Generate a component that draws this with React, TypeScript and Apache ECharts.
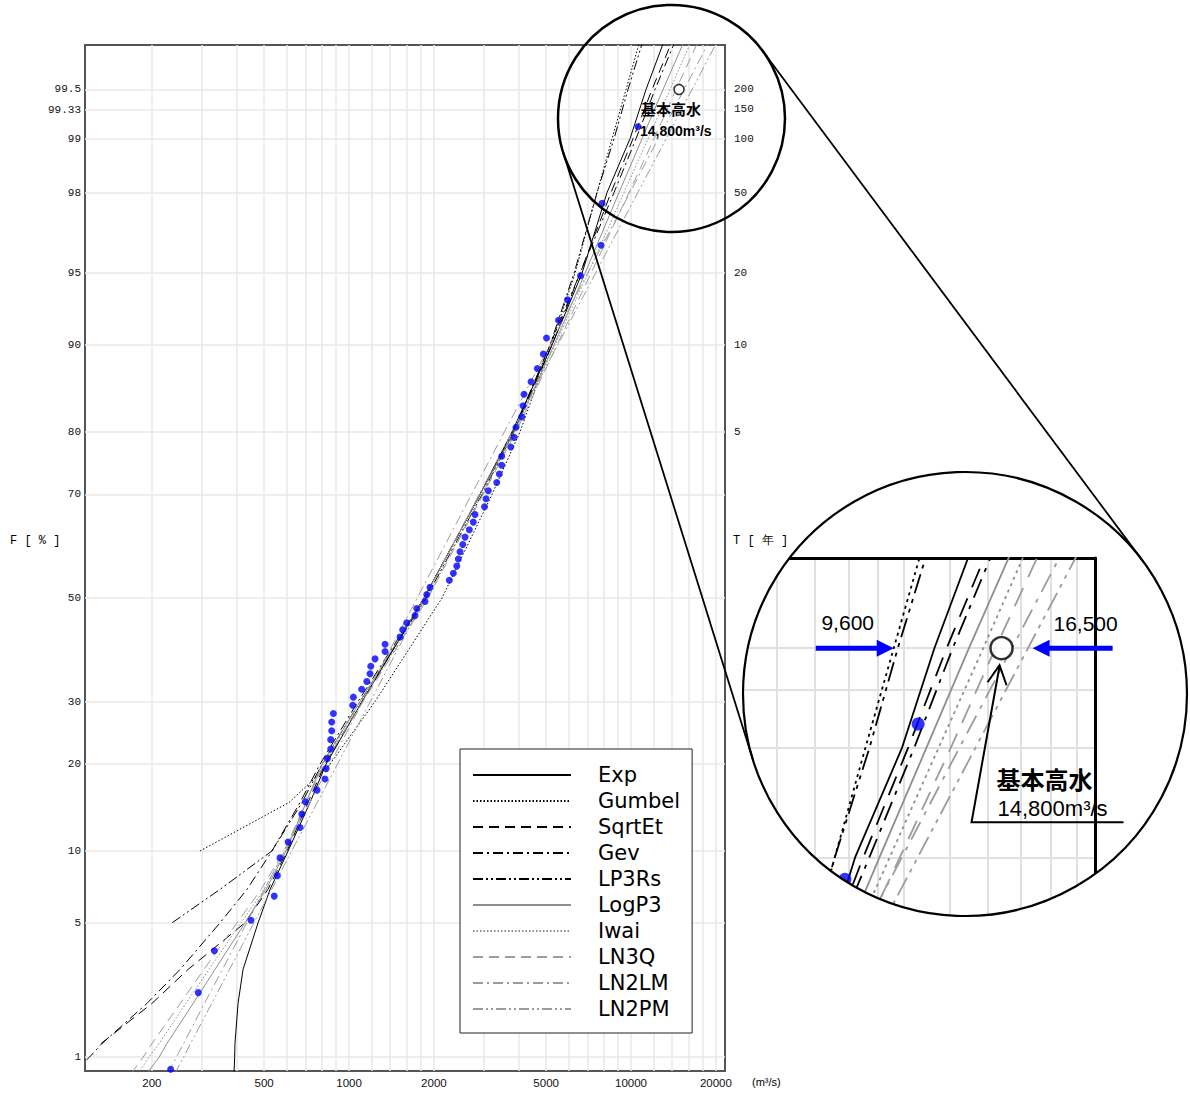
import React, { useEffect, useRef } from 'react';
import * as echarts from 'echarts';

// ---------------- data ----------------
// non-exceedance probability levels (%) at which the fitted curves are read
const probLevels = [0.8, 1, 1.2, 2, 3, 5, 7, 10, 15, 20, 30, 50, 70, 80, 90, 95, 98, 99, 99.5, 99.75];

// fitted discharge (m3/s) for each method at probLevels (null = not drawn)
const qExp = [391, 393, 394, 404, 421, 476, 525, 608, 727, 829, 1112, 1845, 2914, 3785, 5247, 6703, 8221, 9919, 11303, 12986];
const qGumbel = [null, null, null, null, null, null, null, 296, 612, 856, 1237, 2137, 3214, 4040, 5204, 6331, 7577, 8564, 9600, 10675];
const qSqrtEt = [null, null, 132, 200, 269, 428, 516, 603, 715, 822, 1112, 1845, 2914, 3847, 5247, 6595, 8494, 10165, 11871, 13863];
const qGev = [104, 120, 133, 192, 252, 349, 435, 533, 670, 789, 1076, 1845, 2914, 3816, 5161, 6595, 8705, 10417, 12165, 14207];
const qLP3Rs = [null, null, null, null, null, 236, 349, 533, 681, 802, 1094, 1875, 2962, 3847, 5161, 6280, 7577, 8705, 9758, 10940];
const qLogP3 = [192, 212, 226, 280, 335, 428, 508, 598, 704, 802, 1094, 1845, 2914, 3847, 5333, 6869, 9066, 10940, 12986, 15291];
const qIwai = [179, 195, 212, 264, 319, 414, 500, 593, 704, 809, 1112, 1891, 2962, 3878, 5377, 7040, 9445, 11489, 13751, 16190];
const qLN3Q = [169, 186, 200, 252, 306, 401, 488, 588, 704, 815, 1121, 1906, 2987, 3910, 5465, 7214, 9838, 12066, 14441, 17143];
const qLN2LM = [228, 244, 259, 307, 356, 434, 501, 591, 726, 856, 1120, 1745, 2719, 3557, 5161, 7017, 9919, 12487, 15429, 18753];
const qLN2PM = [241, 259, 274, 326, 377, 460, 532, 626, 771, 910, 1190, 1856, 2893, 3785, 5497, 7478, 10571, 13319, 16457, 20021];

// observed annual maxima: plotting position (%) and discharge (m3/s)
const obsF = [0.85, 2.28, 3.70, 5.13, 6.55, 7.98, 9.40, 10.83, 12.25, 13.68, 15.10, 16.52, 17.95, 19.37, 20.80, 22.22, 23.65, 25.07, 26.50, 27.92,
  29.34, 30.77, 32.19, 33.62, 35.04, 36.47, 37.89, 39.32, 40.74, 42.17, 43.59, 45.01, 46.44, 47.86, 49.29, 50.71, 52.14, 53.56, 54.99, 56.41,
  57.83, 59.26, 60.68, 62.11, 63.53, 64.96, 66.38, 67.81, 69.23, 70.66, 72.08, 73.50, 74.93, 76.35, 77.78, 79.20, 80.63, 82.05, 83.48, 84.90,
  86.32, 87.75, 89.17, 90.60, 92.02, 93.45, 94.87, 96.30, 97.72, 99.15];
const obsQ = [233, 292, 333, 449, 543, 557, 569, 608, 670, 680, 700, 770, 822, 829, 838, 861, 861, 868, 868, 880,
  1031, 1036, 1109, 1156, 1187, 1194, 1237, 1342, 1342, 1517, 1550, 1602, 1714, 1738, 1860, 1886, 1937, 2268, 2344, 2410,
  2441, 2475, 2531, 2579, 2671, 2759, 2798, 3023, 3061, 3119, 3340, 3412, 3479, 3479, 3745, 3847, 3910, 4096, 4141, 4174,
  4420, 4653, 4887, 5016, 5532, 5954, 6622, 7828, 7892, 10589];

// design flood (基本高水) and range of fitted values at T=200
const designQ = [14800];
const designF = [99.5];
const rangeQ = [9600, 16500];

// axis ticks
const yTickF = [1, 5, 10, 20, 30, 50, 70, 80, 90, 95, 98, 99, 99.33, 99.5];
const yTickLabels = ['1', '5', '10', '20', '30', '50', '70', '80', '90', '95', '98', '99', '99.33', '99.5'];
const returnPeriods = [5, 10, 20, 50, 100, 150, 200];
const xLabelQ = [200, 500, 1000, 2000, 5000, 10000, 20000];
const xGridQ = [200, 300, 400, 500, 600, 700, 800, 900, 1000, 1200, 1400, 1600, 1800, 2000, 3000, 4000, 5000,
  6000, 7000, 8000, 9000, 10000, 12000, 14000, 16000, 18000, 20000];

// axis ranges (discharge in m3/s, standard normal variate for probability)
const X_RANGE_Q = [115.8, 21540];
const INSET_X_MIN_Q = 5284;
const Y_RANGE_Z = [-2.396, 2.801];
const INSET_Y_MIN_Z = 1.91;

// ---------------- helpers ----------------
function normInv(p: number): number {
  const a = [-3.969683028665376e+01, 2.209460984245205e+02, -2.759285104469687e+02, 1.383577518672690e+02, -3.066479806614716e+01, 2.506628277459239e+00];
  const b = [-5.447609879822406e+01, 1.615858368580409e+02, -1.556989798598866e+02, 6.680131188771972e+01, -1.328068155288572e+01];
  const c = [-7.784894002430293e-03, -3.223964580411365e-01, -2.400758277161838e+00, -2.549671010161475e+00, 4.374664141464968e+00, 2.938163982698783e+00];
  const d = [7.784695709041462e-03, 3.224671290700398e-01, 2.445134137142996e+00, 3.754408661907416e+00];
  const plow = 0.02425;
  const phigh = 1 - plow;
  if (p < plow) {
    const q = Math.sqrt(-2 * Math.log(p));
    return (((((c[0] * q + c[1]) * q + c[2]) * q + c[3]) * q + c[4]) * q + c[5]) / ((((d[0] * q + d[1]) * q + d[2]) * q + d[3]) * q + 1);
  }
  if (p <= phigh) {
    const q = p - 0.5;
    const r = q * q;
    return (((((a[0] * r + a[1]) * r + a[2]) * r + a[3]) * r + a[4]) * r + a[5]) * q / (((((b[0] * r + b[1]) * r + b[2]) * r + b[3]) * r + b[4]) * r + 1);
  }
  const q = Math.sqrt(-2 * Math.log(1 - p));
  return -(((((c[0] * q + c[1]) * q + c[2]) * q + c[3]) * q + c[4]) * q + c[5]) / ((((d[0] * q + d[1]) * q + d[2]) * q + d[3]) * q + 1);
}

const toPt = (q: number, f: number) => [Math.log10(q), normInv(f / 100)];

const nearestLabel = (v: number, vals: number[], labels: string[]) => {
  let bi = 0;
  let bd = Infinity;
  vals.forEach((x, i) => {
    const dd = Math.abs(x - v);
    if (dd < bd) { bd = dd; bi = i; }
  });
  return labels[bi];
};

const lineDefs: { name: string; q: (number | null)[]; color: string; dash: any }[] = [
  { name: 'Exp', q: qExp, color: '#000000', dash: 'solid' },
  { name: 'Gumbel', q: qGumbel, color: '#000000', dash: [1.5, 2] },
  { name: 'SqrtEt', q: qSqrtEt, color: '#000000', dash: [10, 6] },
  { name: 'Gev', q: qGev, color: '#000000', dash: [10, 4, 2, 4] },
  { name: 'LP3Rs', q: qLP3Rs, color: '#000000', dash: [10, 3, 2, 3, 2, 3] },
  { name: 'LogP3', q: qLogP3, color: '#8e8e8e', dash: 'solid' },
  { name: 'Iwai', q: qIwai, color: '#8e8e8e', dash: [1.5, 2] },
  { name: 'LN3Q', q: qLN3Q, color: '#9c9c9c', dash: [10, 6] },
  { name: 'LN2LM', q: qLN2LM, color: '#9c9c9c', dash: [10, 4, 2, 4] },
  { name: 'LN2PM', q: qLN2PM, color: '#9c9c9c', dash: [10, 3, 2, 3, 2, 3] },
];

const MONO = '"Liberation Mono", "DejaVu Sans Mono", monospace';
const SANS = '"Liberation Sans", Arial, sans-serif';
const NARROW = '"Liberation Sans Narrow", "Liberation Sans", sans-serif';
const CJK = '"Noto Sans CJK JP", "Noto Sans CJK SC", sans-serif';

export default function App() {
  const ref = useRef<HTMLDivElement>(null);

  useEffect(() => {
    const el = ref.current;
    if (!el) return;
    const chart = echarts.init(el, null, { renderer: 'svg' });

    const yTickZ = yTickF.map((f) => normInv(f / 100));
    const tTickZ = returnPeriods.map((t) => normInv(1 - 1 / t));
    const xLabelLog = xLabelQ.map((q) => Math.log10(q));
    const xGridLog = xGridQ.map((q) => Math.log10(q));

    const curveData = (q: (number | null)[]) =>
      probLevels
        .map((f, i) => (q[i] == null ? null : toPt(q[i] as number, f)))
        .filter((p) => p !== null);

    const obsData = obsQ.map((q, i) => toPt(q, obsF[i]));
    const designData = designQ.map((q, i) => toPt(q, designF[i]));

    const series: any[] = [];
    lineDefs.forEach((d) => {
      series.push({
        type: 'line', name: d.name, xAxisIndex: 0, yAxisIndex: 0,
        data: curveData(d.q), symbol: 'none', showSymbol: false, z: 2,
        lineStyle: { color: d.color, width: 1, type: d.dash },
        itemStyle: { color: d.color },
        emphasis: { disabled: true }, silent: true,
      });
    });
    series.push({
      type: 'scatter', name: 'obs', xAxisIndex: 0, yAxisIndex: 0, data: obsData,
      symbolSize: 7, itemStyle: { color: '#0000ff' }, z: 3, silent: true,
    });
    series.push({
      type: 'scatter', name: 'design', xAxisIndex: 0, yAxisIndex: 0, data: designData,
      symbolSize: 10, itemStyle: { color: '#ffffff', borderColor: '#000', borderWidth: 1.6 }, z: 4, silent: true,
    });
    // inset (magnified) copies
    lineDefs.forEach((d) => {
      series.push({
        type: 'line', name: d.name, xAxisIndex: 1, yAxisIndex: 2,
        data: curveData(d.q), symbol: 'none', showSymbol: false, z: 2,
        lineStyle: { color: d.color, width: 1.8, type: Array.isArray(d.dash) ? d.dash.map((v: number) => v * 2) : d.dash },
        itemStyle: { color: d.color },
        emphasis: { disabled: true }, silent: true,
      });
    });
    series.push({
      type: 'scatter', name: 'obsInset', xAxisIndex: 1, yAxisIndex: 2, data: obsData,
      symbolSize: 13, itemStyle: { color: '#0000ff' }, z: 3, silent: true,
    });
    series.push({
      type: 'scatter', name: 'designInset', xAxisIndex: 1, yAxisIndex: 2, data: designData,
      symbolSize: 22, itemStyle: { color: '#ffffff', borderColor: '#000', borderWidth: 2.5 }, z: 4, silent: true,
    });

    const gridLine = { show: true, lineStyle: { color: '#e8e8e8', width: 1.5 } };

    const option: any = {
      animation: false,
      backgroundColor: '#ffffff',
      textStyle: { fontFamily: SANS },
      grid: [
        { left: 85, top: 45, width: 640, height: 1026, show: true, borderColor: '#555', borderWidth: 2, backgroundColor: 'transparent', outerBoundsMode: 'none' },
        { left: 745, top: 558, width: 350, height: 357, show: false, outerBoundsMode: 'none' },
      ],
      xAxis: [
        {
          type: 'value', gridIndex: 0, min: Math.log10(X_RANGE_Q[0]), max: Math.log10(X_RANGE_Q[1]),
          axisLine: { show: false },
          axisTick: { show: false, customValues: xGridLog },
          splitLine: gridLine,
          axisLabel: {
            customValues: xLabelLog, margin: 6, fontSize: 11.5, fontFamily: NARROW, color: '#111',
            formatter: (v: number) => nearestLabel(v, xLabelLog, xLabelQ.map(String)),
          },
        },
        {
          type: 'value', gridIndex: 1, position: 'top', min: Math.log10(INSET_X_MIN_Q), max: Math.log10(X_RANGE_Q[1]),
          axisLine: { show: true, onZero: false, lineStyle: { color: '#000', width: 3 } },
          axisTick: { show: false, customValues: xGridLog },
          splitLine: { show: true, lineStyle: { color: '#e0e0e0', width: 2 } },
          axisLabel: { show: false },
        },
      ],
      yAxis: [
        {
          type: 'value', gridIndex: 0, position: 'left', min: Y_RANGE_Z[0], max: Y_RANGE_Z[1],
          axisLine: { show: false },
          axisTick: { show: false, customValues: yTickZ },
          splitLine: gridLine,
          axisLabel: {
            customValues: yTickZ, margin: 4, fontSize: 11, fontFamily: MONO, color: '#111',
            formatter: (v: number) => nearestLabel(v, yTickZ, yTickLabels),
          },
        },
        {
          type: 'value', gridIndex: 0, position: 'right', min: Y_RANGE_Z[0], max: Y_RANGE_Z[1],
          axisLine: { show: false },
          axisTick: { show: false, customValues: tTickZ },
          splitLine: { show: false },
          axisLabel: {
            customValues: tTickZ, margin: 9, fontSize: 11, fontFamily: MONO, color: '#111',
            formatter: (v: number) => nearestLabel(v, tTickZ, returnPeriods.map(String)),
          },
        },
        {
          type: 'value', gridIndex: 1, position: 'right', min: INSET_Y_MIN_Z, max: Y_RANGE_Z[1],
          axisLine: { show: true, onZero: false, lineStyle: { color: '#000', width: 3 } },
          axisTick: { show: false, customValues: yTickZ },
          splitLine: { show: true, lineStyle: { color: '#e0e0e0', width: 2 } },
          axisLabel: { show: false },
        },
      ],
      legend: {
        show: true, orient: 'vertical', left: 460, top: 749,
        data: lineDefs.map((d) => d.name),
        selectedMode: false,
        backgroundColor: '#ffffff', borderColor: '#222', borderWidth: 1,
        padding: [15, 12, 13, 12],
        itemGap: 4, itemWidth: 98, itemHeight: 14,
        lineStyle: { width: 2 },
        itemStyle: { color: 'rgba(0,0,0,0)', borderColor: 'rgba(0,0,0,0)', borderWidth: 0, opacity: 0 },
        textStyle: { color: '#000', fontSize: 21, lineHeight: 22, fontFamily: '"DejaVu Sans", sans-serif', padding: [0, 0, 0, 22] },
        z: 10,
      },
      series,
    };

    chart.setOption(option);

    // ---------- annotations ----------
    const pMain = chart.convertToPixel({ gridIndex: 0 }, toPt(designQ[0], designF[0])) as number[];
    const pIn = chart.convertToPixel({ gridIndex: 1 }, toPt(designQ[0], designF[0])) as number[];
    const pLow = chart.convertToPixel({ gridIndex: 1 }, toPt(rangeQ[0], designF[0])) as number[];
    const pHigh = chart.convertToPixel({ gridIndex: 1 }, toPt(rangeQ[1], designF[0])) as number[];

    const c1 = { x: 671.5, y: 118.5, r: 113.5 };
    const c2 = { x: 965, y: 694, r: 222 };
    const dx = c2.x - c1.x;
    const dy = c2.y - c1.y;
    const dist = Math.sqrt(dx * dx + dy * dy);
    const th = Math.atan2(dy, dx);
    const al = Math.acos((c1.r - c2.r) / dist);
    const tangents = [th + al, th - al].map((ang) => ({
      x1: c1.x + c1.r * Math.cos(ang), y1: c1.y + c1.r * Math.sin(ang),
      x2: c2.x + c2.r * Math.cos(ang), y2: c2.y + c2.r * Math.sin(ang),
    }));

    // mask: inset rectangle minus circle (nonzero winding)
    const rect = [[735, 552], [1105, 552], [1105, 925], [735, 925], [735, 552]];
    const circ: number[][] = [];
    for (let i = 0; i <= 240; i++) {
      const t = -(i / 240) * Math.PI * 2;
      circ.push([c2.x + c2.r * Math.cos(t), c2.y + c2.r * Math.sin(t)]);
    }
    const maskPoints = rect.concat(circ);

    const fmt = (n: number) => n.toLocaleString('en-US');
    const txt = (x: number, y: number, text: string, font: any, align = 'left', z = 110) => ({
      type: 'text', x, y, z, silent: true,
      style: {
        text, fill: '#000', align, textAlign: align, verticalAlign: 'middle', textVerticalAlign: 'middle',
        fontSize: font.size, fontFamily: font.family, fontWeight: font.weight || 'normal',
      },
    });

    const arrowRight = (tx: number, ty: number, len: number) => [
      [tx - len, ty - 2.5], [tx - 17, ty - 2.5], [tx - 17, ty - 8.5], [tx, ty],
      [tx - 17, ty + 8.5], [tx - 17, ty + 2.5], [tx - len, ty + 2.5],
    ];
    const arrowLeft = (tx: number, ty: number, len: number) => [
      [tx + len, ty - 2.5], [tx + 17, ty - 2.5], [tx + 17, ty - 8.5], [tx, ty],
      [tx + 17, ty + 8.5], [tx + 17, ty + 2.5], [tx + len, ty + 2.5],
    ];

    const elements: any[] = [
      { type: 'polygon', z: 60, silent: true, shape: { points: maskPoints }, style: { fill: '#ffffff', stroke: null } },
      { type: 'circle', z: 100, silent: true, shape: { cx: c1.x, cy: c1.y, r: c1.r }, style: { fill: 'none', stroke: '#000', lineWidth: 2.5 } },
      { type: 'circle', z: 100, silent: true, shape: { cx: c2.x, cy: c2.y, r: c2.r }, style: { fill: 'none', stroke: '#000', lineWidth: 2.2 } },
      ...tangents.map((t) => ({ type: 'line', z: 100, silent: true, shape: t, style: { stroke: '#000', lineWidth: 1.8 } })),
      // axis names
      txt(10, 541, 'F [ % ]', { size: 12, family: MONO }),
      txt(733, 541, 'T [ 年 ]', { size: 12, family: MONO }),
      txt(752, 1082, '(m³/s)', { size: 11, family: NARROW }),
      // main design label
      txt(pMain[0] - 8, pMain[1] + 19, '基本高水', { size: 15, family: CJK, weight: 'bold' }, 'center'),
      txt(pMain[0] - 39, pMain[1] + 42, fmt(designQ[0]) + 'm³/s', { size: 14, family: SANS, weight: 'bold' }),
      // inset annotations
      { type: 'polygon', z: 110, silent: true, shape: { points: arrowRight(pLow[0], pLow[1], 78) }, style: { fill: '#0000ff' } },
      { type: 'polygon', z: 110, silent: true, shape: { points: arrowLeft(pHigh[0] + 4, pHigh[1], 80) }, style: { fill: '#0000ff' } },
      txt(pLow[0] - 46, pLow[1] - 26, fmt(rangeQ[0]), { size: 21, family: SANS }, 'center'),
      txt(pHigh[0] + 57, pHigh[1] - 25, fmt(rangeQ[1]), { size: 21, family: SANS }, 'center'),
      txt(pIn[0] - 5, pIn[1] + 130, '基本高水', { size: 24, family: CJK, weight: 'bold' }),
      txt(pIn[0] - 4, pIn[1] + 160, fmt(designQ[0]) + 'm³/s', { size: 22, family: SANS }),
      { type: 'polyline', z: 110, silent: true, shape: { points: [[pIn[0] + 122, pIn[1] + 174], [pIn[0] - 30, pIn[1] + 174], [pIn[0] - 2, pIn[1] + 18]] }, style: { stroke: '#000', lineWidth: 2, fill: null } },
      { type: 'polyline', z: 110, silent: true, shape: { points: [[pIn[0] - 14, pIn[1] + 34], [pIn[0] - 2, pIn[1] + 17], [pIn[0] + 5, pIn[1] + 37]] }, style: { stroke: '#000', lineWidth: 2, fill: null } },
    ];

    chart.setOption({ graphic: { elements } });

    return () => chart.dispose();
  }, []);

  return <div ref={ref} style={{ position: 'absolute', left: 0, top: 0, width: 1190, height: 1093 }} />;
}
